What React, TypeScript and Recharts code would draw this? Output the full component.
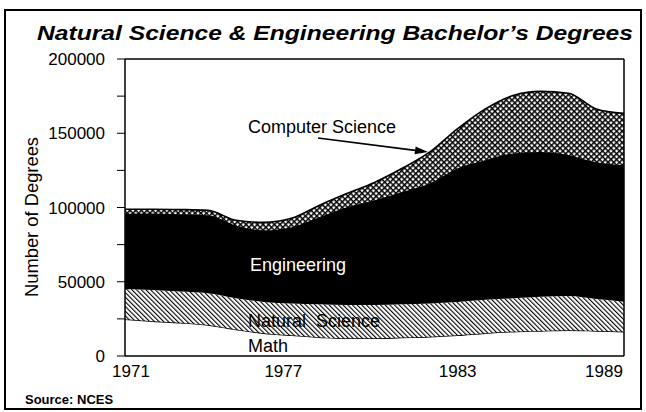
import { AreaChart, Area, XAxis, YAxis, ReferenceLine } from 'recharts'

// Degrees per year (stacked bottom to top)
const YEARS = [1971, 1972, 1973, 1974, 1975, 1976, 1977, 1978, 1979, 1980, 1981, 1982, 1983, 1984, 1985, 1986, 1987, 1988, 1989]
const MATH = [24700, 23400, 22400, 20900, 17900, 15400, 13900, 12700, 11900, 11900, 12400, 12900, 13900, 15400, 16400, 16900, 17400, 16900, 16400]
const NATURAL = [20400, 21000, 21000, 21300, 21000, 21000, 21500, 22200, 22500, 22500, 22500, 22500, 22500, 22500, 22500, 23000, 23000, 21500, 20200]
const ENGINEERING = [50700, 51500, 52000, 52500, 49000, 48200, 51300, 58500, 65700, 70400, 75500, 81000, 90000, 94000, 97500, 97500, 95000, 92000, 91800]
const COMPUTER = [3000, 2900, 3200, 3400, 3500, 5400, 6000, 8000, 9300, 12100, 16000, 21000, 26700, 34500, 39000, 40800, 41500, 36000, 35000]

const X_TICKS = [1971, 1977, 1983, 1989]
const Y_TICKS = [0, 25000, 50000, 75000, 100000, 125000, 150000, 175000, 200000]

const FONT = '"Liberation Sans", Arial, Helvetica, sans-serif'

const data = YEARS.map((year, i) => ({
  year,
  math: MATH[i],
  natural: NATURAL[i],
  engineering: ENGINEERING[i],
  computer: COMPUTER[i],
}))

// small nudges so the year labels sit like the original
const X_LABEL_SHIFT: Record<number, number> = { 1971: 6, 1977: -8, 1983: 0, 1989: -20 }

function YearTick(props: any) {
  const { x, y, payload } = props
  return (
    <text x={x + (X_LABEL_SHIFT[payload.value] ?? 0)} y={y + 13} textAnchor="middle"
      fontSize={17} fontFamily={FONT} fill="#000">
      {payload.value}
    </text>
  )
}

function Arrow({ x1, y1, x2, y2 }: { x1: number; y1: number; x2: number; y2: number }) {
  const a = Math.atan2(y2 - y1, x2 - x1)
  const len = 13, half = 4
  const bx = x2 - len * Math.cos(a), by = y2 - len * Math.sin(a)
  const px = -Math.sin(a) * half, py = Math.cos(a) * half
  return (
    <g>
      <line x1={x1} y1={y1} x2={bx} y2={by} stroke="#000" strokeWidth={1.6} />
      <polygon points={`${x2},${y2} ${bx + px},${by + py} ${bx - px},${by - py}`} fill="#000" />
    </g>
  )
}

export default function App() {
  return (
    <div style={{ position: 'absolute', left: 0, top: 0, width: 646, height: 412, background: '#fff' }}>
      <AreaChart width={646} height={412} data={data}
        margin={{ top: 59, right: 12, bottom: 26, left: 0 }}>
        <defs>
          <pattern id="cross" width={4} height={4} patternUnits="userSpaceOnUse" patternTransform="rotate(45)">
            <rect width={4} height={4} fill="#fff" />
            <rect width={4} height={1.5} fill="#000" />
            <rect width={1.5} height={4} fill="#000" />
          </pattern>
          <pattern id="hatch" width={3.3} height={3.3} patternUnits="userSpaceOnUse" patternTransform="rotate(-45)">
            <rect width={3.3} height={3.3} fill="#fff" />
            <rect width={1.1} height={3.3} fill="#000" />
          </pattern>
        </defs>
        <XAxis dataKey="year" type="number" domain={[1971, 1989]} ticks={X_TICKS}
          axisLine={{ stroke: '#000', strokeWidth: 1.5 }} tickLine={false} height={30}
          tick={<YearTick />} interval={0} />
        <YAxis yAxisId="left" domain={[0, 200000]} ticks={Y_TICKS} width={125}
          axisLine={{ stroke: '#000', strokeWidth: 1.5 }} tickLine={{ stroke: '#000' }}
          tickSize={8} tickMargin={12} interval={0}
          tickFormatter={(v: number) => (v % 50000 === 0 ? String(v) : '')}
          tick={{ fontSize: 17, fontFamily: FONT, fill: '#000' }} />
        <YAxis yAxisId="right" orientation="right" domain={[0, 200000]} ticks={Y_TICKS} width={10}
          axisLine={{ stroke: '#000', strokeWidth: 1.5 }} tickLine={{ stroke: '#000' }}
          tickSize={5} interval={0} tickFormatter={() => ''} />
        <Area yAxisId="left" dataKey="math" stackId="a" type="monotone" fill="#fff"
          stroke="#000" strokeWidth={1.5} isAnimationActive={false} />
        <Area yAxisId="left" dataKey="natural" stackId="a" type="monotone" fill="url(#hatch)" fillOpacity={1}
          stroke="none" isAnimationActive={false} />
        <Area yAxisId="left" dataKey="engineering" stackId="a" type="monotone" fill="#000" fillOpacity={1}
          stroke="#000" strokeWidth={1} isAnimationActive={false} />
        <Area yAxisId="left" dataKey="computer" stackId="a" type="monotone" fill="url(#cross)" fillOpacity={1}
          stroke="#000" strokeWidth={1.6} isAnimationActive={false} />
        <ReferenceLine yAxisId="left" y={200000} stroke="#000" strokeWidth={1.5} />
      </AreaChart>

      <svg width={646} height={412} style={{ position: 'absolute', left: 0, top: 0, pointerEvents: 'none' }}>
        <rect x={5} y={10} width={636} height={399} fill="none" stroke="#000" strokeWidth={2} />
        <text x={37} y={39.5} fontSize={20} fontWeight="bold" fontStyle="italic" fontFamily={FONT}
          textLength={596} lengthAdjust="spacingAndGlyphs">
          Natural Science &amp; Engineering Bachelor’s Degrees
        </text>
        <text transform="translate(38,217) rotate(-90)" textAnchor="middle" fontSize={18} fontFamily={FONT}
          textLength={160} lengthAdjust="spacingAndGlyphs">
          Number of Degrees
        </text>
        <text x={248} y={133} fontSize={18} fontFamily={FONT}>Computer Science</text>
        <Arrow x1={318} y1={138} x2={428} y2={152} />
        <text x={250} y={271} fontSize={18} fontFamily={FONT} fill="#fff">Engineering</text>
        <text x={248} y={327} fontSize={18} fontFamily={FONT} style={{ whiteSpace: 'pre' }}>Natural  Science</text>
        <text x={248} y={352} fontSize={18} fontFamily={FONT}>Math</text>
        <text x={25} y={404} fontSize={13} fontWeight="bold" fontFamily={FONT}>Source: NCES</text>
      </svg>
    </div>
  )
}
